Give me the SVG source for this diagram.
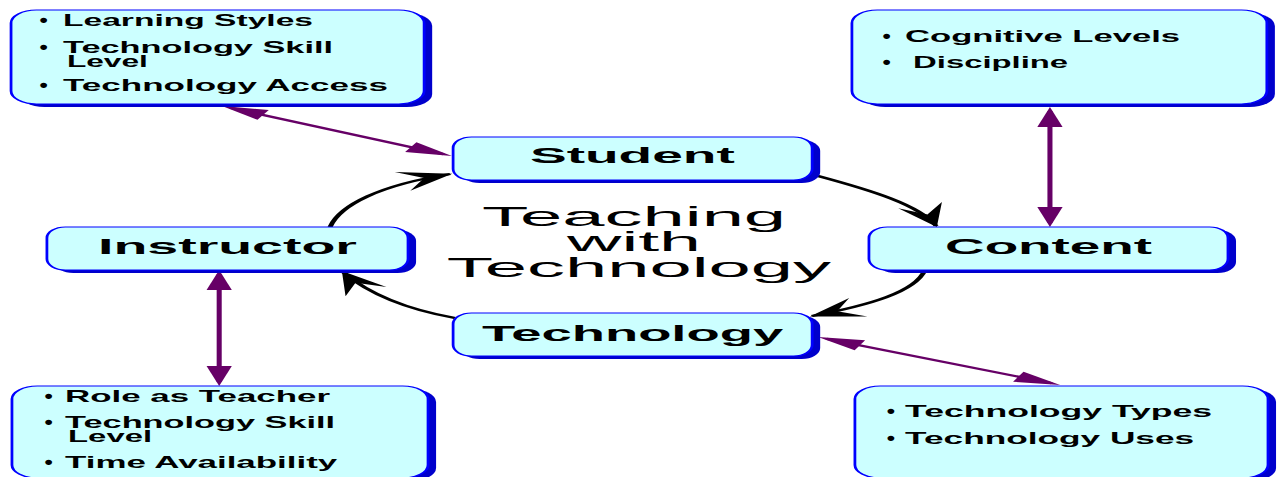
<svg xmlns="http://www.w3.org/2000/svg" width="1279" height="477" viewBox="0 0 1279 477">
  <defs>
    <style>
      .shadow { fill: #0000cc; }
      .box { fill: #ccffff; stroke: #0000ff; stroke-width: 1.2; }
      .label { font-family: "Liberation Sans", Arial, sans-serif; font-weight: bold; font-size: 23px; fill: #000; }
      .item { font-family: "Liberation Sans", Arial, sans-serif; font-weight: bold; font-size: 16px; fill: #000; }
      .dot { font-family: "Liberation Sans", Arial, sans-serif; font-weight: bold; font-size: 18px; fill: #000; }
      .title { font-family: "Liberation Sans", Arial, sans-serif; font-size: 28px; fill: #000; }
      .link { fill: none; stroke: #660066; stroke-width: 2.2; }
      .cycle { fill: none; stroke: #000; stroke-width: 2.2; }
    </style>
    <marker id="purpleHead" markerUnits="userSpaceOnUse" viewBox="-22 -8 28 16" markerWidth="28" markerHeight="16" refX="0" refY="0" orient="auto-start-reverse" overflow="visible">
      <path d="M4,0 L-16,-5.5 L-16,5.5 Z" fill="#660066"/>
    </marker>
    <marker id="blackHead" markerUnits="userSpaceOnUse" viewBox="-24 -12 28 24" markerWidth="28" markerHeight="24" refX="0" refY="0" orient="auto" overflow="visible">
      <path d="M1,0 L-22,-10 L-12,0 L-22,10 Z" fill="#000"/>
    </marker>
  </defs>

  <rect x="0" y="0" width="1279" height="477" fill="#ffffff"/>

  <!-- whole drawing is laid out narrow and stretched sideways -->
  <g transform="scale(2.3 1)">

    <!-- connectors -->
    <g id="connectors">
      <!-- attribute boxes to concepts -->
      <path class="link" d="M100.1,107.8 L192.9,154.2" marker-start="url(#purpleHead)" marker-end="url(#purpleHead)"/>
      <path class="link" d="M456.5,111 L456.5,223" marker-start="url(#purpleHead)" marker-end="url(#purpleHead)"/>
      <path class="link" d="M95.3,274 L95.3,382" marker-start="url(#purpleHead)" marker-end="url(#purpleHead)"/>
      <path class="link" d="M359.3,338.7 L457.3,383.3" marker-start="url(#purpleHead)" marker-end="url(#purpleHead)"/>
      <!-- cycle between the four concepts -->
      <path class="cycle" d="M143.5,227 C147.8,205 165.2,185 195.7,174" marker-end="url(#blackHead)"/>
      <path class="cycle" d="M355.7,176 C378.3,190 400,205 407,226" marker-end="url(#blackHead)"/>
      <path class="cycle" d="M402.2,270 C397.8,292 378.3,305 353,316" marker-end="url(#blackHead)"/>
      <path class="cycle" d="M197.8,318 C178.3,310 160.9,295 149.1,272" marker-end="url(#blackHead)"/>
    </g>

    <!-- center title -->
    <g id="title">
      <text class="title" x="209.6" y="226" textLength="132.2" lengthAdjust="spacingAndGlyphs">Teaching</text>
      <text class="title" x="246.5" y="251" textLength="58.3" lengthAdjust="spacingAndGlyphs">with</text>
      <text class="title" x="194.3" y="277" textLength="167" lengthAdjust="spacingAndGlyphs">Technology</text>
    </g>

    <!-- student attributes -->
    <g id="student-notes">
      <rect class="shadow" x="8.3" y="13" width="179.6" height="94" rx="11" ry="13"/>
      <rect class="box" x="4.8" y="10" width="179.6" height="94" rx="11" ry="13"/>
      <text class="dot" x="17.2" y="26" textLength="3.6" lengthAdjust="spacingAndGlyphs">•</text>
      <text class="item" x="27.4" y="26" textLength="108.7" lengthAdjust="spacingAndGlyphs">Learning Styles</text>
      <text class="dot" x="17.2" y="53" textLength="3.6" lengthAdjust="spacingAndGlyphs">•</text>
      <text class="item" x="27.4" y="53" textLength="117.4" lengthAdjust="spacingAndGlyphs">Technology Skill</text>
      <text class="item" x="29.1" y="67" textLength="35.2" lengthAdjust="spacingAndGlyphs">Level</text>
      <text class="dot" x="17.2" y="91" textLength="3.6" lengthAdjust="spacingAndGlyphs">•</text>
      <text class="item" x="27.4" y="91" textLength="141.3" lengthAdjust="spacingAndGlyphs">Technology Access</text>
    </g>

    <!-- content attributes -->
    <g id="content-notes">
      <rect class="shadow" x="373.9" y="13" width="180.4" height="94" rx="11" ry="13"/>
      <rect class="box" x="370.4" y="10" width="180.4" height="94" rx="11" ry="13"/>
      <text class="dot" x="383.7" y="42" textLength="3.6" lengthAdjust="spacingAndGlyphs">•</text>
      <text class="item" x="393.5" y="42" textLength="119.6" lengthAdjust="spacingAndGlyphs">Cognitive Levels</text>
      <text class="dot" x="383.7" y="68" textLength="3.6" lengthAdjust="spacingAndGlyphs">•</text>
      <text class="item" x="397" y="68" textLength="67.4" lengthAdjust="spacingAndGlyphs">Discipline</text>
    </g>

    <!-- instructor attributes -->
    <g id="instructor-notes">
      <rect class="shadow" x="8.7" y="389" width="180.9" height="92" rx="11" ry="13"/>
      <rect class="box" x="5.2" y="386" width="180.9" height="92" rx="11" ry="13"/>
      <text class="dot" x="19.4" y="402" textLength="3.6" lengthAdjust="spacingAndGlyphs">•</text>
      <text class="item" x="28.3" y="402" textLength="115.2" lengthAdjust="spacingAndGlyphs">Role as Teacher</text>
      <text class="dot" x="19.4" y="428" textLength="3.6" lengthAdjust="spacingAndGlyphs">•</text>
      <text class="item" x="28.3" y="428" textLength="117.4" lengthAdjust="spacingAndGlyphs">Technology Skill</text>
      <text class="item" x="29.6" y="442" textLength="36.5" lengthAdjust="spacingAndGlyphs">Level</text>
      <text class="dot" x="19.4" y="468" textLength="3.6" lengthAdjust="spacingAndGlyphs">•</text>
      <text class="item" x="28.3" y="468" textLength="118.3" lengthAdjust="spacingAndGlyphs">Time Availability</text>
    </g>

    <!-- technology attributes -->
    <g id="technology-notes">
      <rect class="shadow" x="375.2" y="389" width="179.6" height="92" rx="11" ry="13"/>
      <rect class="box" x="371.7" y="386" width="179.6" height="92" rx="11" ry="13"/>
      <text class="dot" x="385.5" y="417" textLength="3.6" lengthAdjust="spacingAndGlyphs">•</text>
      <text class="item" x="393.5" y="417" textLength="133.5" lengthAdjust="spacingAndGlyphs">Technology Types</text>
      <text class="dot" x="385.5" y="444" textLength="3.6" lengthAdjust="spacingAndGlyphs">•</text>
      <text class="item" x="393.5" y="444" textLength="125.7" lengthAdjust="spacingAndGlyphs">Technology Uses</text>
    </g>

    <!-- concept nodes -->
    <g id="student">
      <rect class="shadow" x="200.5" y="140" width="156.1" height="43" rx="8" ry="11"/>
      <rect class="box" x="197" y="137" width="156.1" height="43" rx="8" ry="11"/>
      <text class="label" x="230.4" y="163" textLength="89.1" lengthAdjust="spacingAndGlyphs">Student</text>
    </g>

    <g id="instructor">
      <rect class="shadow" x="23.9" y="230" width="157" height="43" rx="8" ry="11"/>
      <rect class="box" x="20.4" y="227" width="157" height="43" rx="8" ry="11"/>
      <text class="label" x="42.6" y="254" textLength="112.6" lengthAdjust="spacingAndGlyphs">Instructor</text>
    </g>

    <g id="content">
      <rect class="shadow" x="381.3" y="230" width="156.1" height="43" rx="8" ry="11"/>
      <rect class="box" x="377.8" y="227" width="156.1" height="43" rx="8" ry="11"/>
      <text class="label" x="410.9" y="254" textLength="90" lengthAdjust="spacingAndGlyphs">Content</text>
    </g>

    <g id="technology">
      <rect class="shadow" x="200.5" y="316" width="156.1" height="43" rx="8" ry="11"/>
      <rect class="box" x="197" y="313" width="156.1" height="43" rx="8" ry="11"/>
      <text class="label" x="209.6" y="341" textLength="130.9" lengthAdjust="spacingAndGlyphs">Technology</text>
    </g>
  </g>
</svg>
